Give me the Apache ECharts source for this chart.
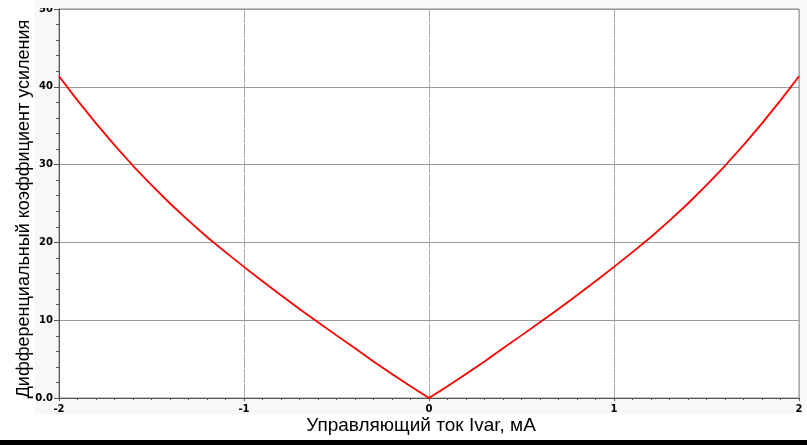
<!DOCTYPE html>
<html>
<head>
<meta charset="utf-8">
<script src="https://cdn.jsdelivr.net/npm/echarts@6/dist/echarts.min.js"></script>
<style>html,body{margin:0;padding:0;background:#fff;}#c{width:807px;height:445px;}</style>
</head>
<body>
<div id="c"></div>
<script>
var currentMA = [-2.0,-1.9,-1.8,-1.7,-1.6,-1.5,-1.4,-1.3,-1.2,-1.1,-1.0,-0.9,-0.8,-0.7,-0.6,-0.5,-0.4,-0.3,-0.2,-0.1,0.0,
                 0.1,0.2,0.3,0.4,0.5,0.6,0.7,0.8,0.9,1.0,1.1,1.2,1.3,1.4,1.5,1.6,1.7,1.8,1.9,2.0];
var gain = [41.35,38.25,35.3,32.5,29.85,27.35,25.0,22.8,20.7,18.75,16.85,15.0,13.2,11.45,9.75,8.05,6.4,4.7,3.1,1.5,0.0,
            1.5,3.1,4.7,6.4,8.05,9.75,11.45,13.2,15.0,16.85,18.75,20.7,22.8,25.0,27.35,29.85,32.5,35.3,38.25,41.35];
var xTicks = [-2, -1, 0, 1, 2];
var yTicks = [0, 10, 20, 30, 40, 50];
var xTitle = 'Управляющий ток Ivar, мА';
var yTitle = 'Дифференциальный коэффициент усиления';

var pts = currentMA.map(function (x, i) { return [x, gain[i]]; });
var chart = echarts.init(document.getElementById('c'), null, {renderer: 'canvas'});
var labelStyle = {color: '#000', fontFamily: 'DejaVu Sans', fontWeight: 'bold', fontSize: 10};
chart.setOption({
  backgroundColor: '#fff',
  animation: false,
  graphic: [
    {type: 'rect', shape: {x: 35, y: 0, width: 772, height: 414}, style: {fill: '#f8f8f8'}, z: -10, silent: true},
    {type: 'rect', shape: {x: 0, y: 440, width: 807, height: 5}, style: {fill: '#000'}, z: 100, silent: true},
    {type: 'rect', shape: {x: 35, y: 0, width: 23, height: 8}, style: {fill: '#f8f8f8'}, z: 100, silent: true}
  ],
  grid: {left: 59, right: 8, top: 9, bottom: 47, outerBoundsMode: 'none', containLabel: false,
         show: true, backgroundColor: '#fff', borderColor: '#888', borderWidth: 1},
  xAxis: {
    type: 'value', min: xTicks[0], max: xTicks[xTicks.length - 1], interval: 1,
    name: xTitle, nameLocation: 'middle', nameGap: 18, nameMoveOverlap: false,
    nameTextStyle: {fontFamily: 'Liberation Sans', fontSize: 19, color: '#000', padding: [0, 16, 0, 0]},
    axisLine: {show: true, onZero: false, lineStyle: {color: '#555', width: 1}},
    axisTick: {show: true, length: 3, lineStyle: {color: '#555'}},
    minorTick: {show: true, splitNumber: 10, length: 2, lineStyle: {color: '#555'}},
    axisLabel: Object.assign({margin: 6}, labelStyle),
    splitLine: {show: true, lineStyle: {color: '#aaaaaa', width: 1, type: [14, 1]}}
  },
  yAxis: {
    type: 'value', min: yTicks[0], max: yTicks[yTicks.length - 1], interval: 10,
    name: yTitle, nameLocation: 'middle', nameGap: 26, nameRotate: 90, nameMoveOverlap: false,
    nameTextStyle: {fontFamily: 'Liberation Sans', fontSize: 18, color: '#000', padding: [0, 11, 0, 0]},
    axisLine: {show: true, onZero: false, lineStyle: {color: '#555', width: 1}},
    axisTick: {show: true, length: 5, lineStyle: {color: '#555'}},
    minorTick: {show: true, splitNumber: 5, length: 3, lineStyle: {color: '#555'}},
    axisLabel: Object.assign({margin: 6, formatter: function (v) { return v === 0 ? '0.0' : String(v); }}, labelStyle),
    splitLine: {show: true, lineStyle: {color: '#9a9a9a', width: 1}}
  },
  series: [{
    type: 'line', data: pts, showSymbol: false, smooth: false,
    lineStyle: {color: '#ff0000', width: 1.8}, clip: true
  }]
});
</script>
</body>
</html>
